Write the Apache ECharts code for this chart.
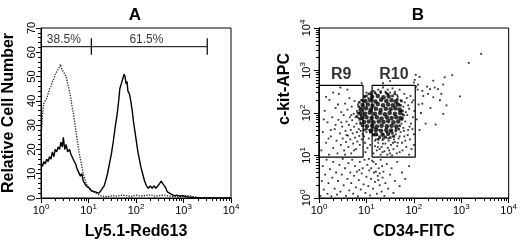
<!DOCTYPE html>
<html lang="en">
<head>
    <meta charset="UTF-8">
    <title>Ly5.1 histogram and CD34 / c-kit dot plot</title>
    <script src="https://cdn.jsdelivr.net/npm/echarts@6.0.0/dist/echarts.min.js"></script>
    <style>
        html, body, #chart {
            width: 520px;
            height: 245px;
            padding: 0;
            margin: 0;
            background: #fff;
        }
    </style>
</head>
<body>
<div id="chart"></div>
<script>
    // all x positions (and the y of panel B) are in decades: 0 = 10^0 ... 4 = 10^4
    var decades = [0, 1, 2, 3, 4];
    var countTicks = [0, 10, 20, 30, 40, 50, 60, 70];

    // panel A: Ly5.1-Red613 histogram, [decade, relative cell number]
    var solidCurve = [[0.0, 14], [0.03, 13], [0.06, 15], [0.09, 14], [0.12, 16], [0.15, 15], [0.18, 17], [0.21, 16],
        [0.24, 19], [0.27, 17], [0.3, 20], [0.33, 19], [0.36, 21], [0.39, 20], [0.42, 23], [0.45, 21], [0.47, 25],
        [0.5, 20], [0.53, 22], [0.56, 19], [0.6, 20], [0.63, 18], [0.66, 18], [0.7, 15], [0.73, 14], [0.76, 12],
        [0.8, 12], [0.83, 9], [0.86, 10], [0.89, 7], [0.92, 7], [0.95, 5], [0.98, 5], [1.02, 4], [1.06, 3],
        [1.1, 3.5], [1.14, 2.5], [1.18, 2.5], [1.22, 2], [1.26, 3], [1.3, 2.5], [1.33, 5], [1.36, 7], [1.4, 10],
        [1.44, 14], [1.48, 18], [1.52, 23], [1.56, 29], [1.6, 34], [1.63, 39], [1.66, 45], [1.69, 47], [1.72, 49],
        [1.75, 51], [1.77, 50], [1.79, 47], [1.81, 48], [1.83, 44], [1.86, 43], [1.89, 40], [1.92, 36], [1.95, 31],
        [1.98, 27], [2.01, 23], [2.04, 19], [2.07, 16], [2.1, 13], [2.14, 10], [2.18, 7], [2.22, 5], [2.26, 4],
        [2.3, 5], [2.34, 4], [2.38, 5], [2.42, 4], [2.46, 4.5], [2.5, 6], [2.53, 7], [2.56, 6], [2.6, 5], [2.63, 4],
        [2.66, 2.5], [2.7, 2], [2.75, 1.5], [2.8, 1], [2.86, 1.2], [2.92, 0.8], [2.98, 1], [3.04, 0.6], [3.1, 0.4],
        [3.2, 0.2], [3.3, 0.1], [3.5, 0], [4, 0]];
    var dottedCurve = [[0.0, 26], [0.02, 30], [0.04, 36], [0.06, 39], [0.09, 40], [0.12, 41], [0.15, 43], [0.18, 45],
        [0.21, 46], [0.24, 48], [0.27, 49], [0.3, 51], [0.33, 52], [0.36, 53], [0.39, 54], [0.41, 55], [0.44, 53],
        [0.47, 52], [0.5, 51], [0.53, 50], [0.56, 47], [0.59, 45], [0.62, 42], [0.65, 38], [0.68, 35], [0.71, 31],
        [0.74, 27], [0.77, 23], [0.8, 19], [0.83, 16], [0.86, 13], [0.89, 10], [0.92, 8], [0.95, 6], [0.98, 5],
        [1.02, 4], [1.06, 3], [1.1, 2.5], [1.15, 2], [1.2, 1.5], [1.25, 1], [1.3, 0.8], [1.4, 0.5], [1.5, 1],
        [1.6, 0.8], [1.7, 1.2], [1.8, 1], [1.9, 0.6], [2.0, 1.2], [2.1, 0.8], [2.2, 1], [2.3, 1.3], [2.4, 0.8],
        [2.5, 1], [2.6, 1.2], [2.7, 0.8], [2.8, 0.6], [2.9, 0.5], [3.0, 0.8], [3.1, 1], [3.2, 0.6], [3.3, 0.2],
        [3.4, 0], [4, 0]];

    // marker bar: from the left edge to the split, then to the end
    var markerLevel = 62.3;
    var markerSplit = 1.06;
    var markerEnd = 3.5;
    var markerCap = [59, 65.8];
    var percentLabels = [[0.48, 65.2, "38.5%"], [2.22, 65.2, "61.5%"]];

    // panel B: gates [xFrom, xTo, yFrom, yTo] in decades
    var gateR9 = [0, 0.93, 0.96, 2.65];
    var gateR10 = [1.12, 2.03, 0.96, 2.65];
    var gateLabels = [[0.47, 2.9, "R9"], [1.58, 2.9, "R10"]];

    // dense core of the cluster (drawn with bigger dots)
    var coreDots = [[1.12, 2.38], [1.24, 2.4], [1.36, 2.37], [1.47, 2.39],
        [0.98, 2.28], [1.08, 2.3], [1.19, 2.27], [1.31, 2.31], [1.42, 2.28], [1.53, 2.3], [1.62, 2.27],
        [0.92, 2.19], [1.03, 2.2], [1.13, 2.17], [1.24, 2.21], [1.35, 2.18], [1.46, 2.2], [1.56, 2.18], [1.66, 2.2],
        [0.88, 2.08], [0.99, 2.11], [1.09, 2.08], [1.2, 2.1], [1.3, 2.07], [1.41, 2.1], [1.51, 2.09], [1.61, 2.11], [1.7, 2.08],
        [0.87, 1.99], [0.97, 1.98], [1.07, 2.01], [1.18, 1.98], [1.29, 2.0], [1.39, 1.97], [1.49, 2.0], [1.6, 1.98], [1.71, 2.0],
        [0.9, 1.89], [1.0, 1.9], [1.11, 1.88], [1.22, 1.9], [1.32, 1.87], [1.43, 1.9], [1.53, 1.88], [1.63, 1.9], [1.72, 1.88],
        [0.95, 1.79], [1.05, 1.8], [1.15, 1.78], [1.26, 1.8], [1.36, 1.79], [1.46, 1.81], [1.57, 1.78], [1.67, 1.8],
        [1.01, 1.69], [1.12, 1.7], [1.22, 1.68], [1.32, 1.7], [1.43, 1.69], [1.53, 1.7], [1.63, 1.68],
        [1.1, 1.59], [1.2, 1.6], [1.31, 1.58], [1.42, 1.6], [1.52, 1.59],
        [1.2, 1.5], [1.34, 1.49], [1.46, 1.51]];

    // ragged edge of the core
    var fringeDots = [[0.82, 2.0], [0.84, 2.15], [0.86, 1.85], [0.9, 2.3], [0.93, 1.7], [0.96, 2.38], [1.0, 1.62],
        [1.05, 2.45], [1.08, 1.55], [1.18, 2.48], [1.15, 1.48], [1.3, 2.5], [1.28, 1.42], [1.42, 2.47], [1.4, 1.44],
        [1.55, 2.4], [1.55, 1.52], [1.65, 2.32], [1.62, 1.58], [1.72, 2.18], [1.7, 1.7], [1.76, 2.05], [1.75, 1.85],
        [1.78, 1.95], [0.8, 1.92], [0.85, 2.25], [1.58, 1.45], [1.68, 1.62], [1.5, 1.42], [1.1, 2.45], [1.45, 2.44],
        [0.95, 1.6], [1.25, 1.38], [1.36, 1.4], [0.88, 1.75], [1.74, 2.28], [1.6, 2.45], [1.0, 2.4]];

    // single events
    var dots = [
        // inside R9
        [0.05, 1.12], [0.08, 1.55], [0.12, 2.05], [0.15, 1.3], [0.18, 1.78], [0.21, 1.02], [0.22, 2.31], [0.25, 1.45],
        [0.28, 1.9], [0.3, 1.18], [0.33, 1.62], [0.35, 2.12], [0.37, 1.35], [0.39, 1.05], [0.41, 1.84], [0.42, 2.45],
        [0.44, 1.52], [0.46, 1.25], [0.47, 2.02], [0.49, 1.68], [0.5, 1.4], [0.52, 1.95], [0.53, 1.12], [0.55, 2.22],
        [0.56, 1.58], [0.57, 1.32], [0.58, 1.8], [0.6, 2.08], [0.61, 1.47], [0.62, 1.2], [0.63, 1.72], [0.64, 2.35],
        [0.65, 1.9], [0.66, 1.38], [0.67, 1.6], [0.68, 1.05], [0.69, 2.15], [0.7, 1.83], [0.71, 1.52], [0.72, 1.28],
        [0.73, 1.98], [0.74, 1.68], [0.75, 2.28], [0.76, 1.42], [0.77, 1.9], [0.78, 1.15], [0.79, 1.75], [0.8, 2.05],
        [0.8, 1.55], [0.81, 1.33], [0.82, 2.2], [0.83, 1.88], [0.84, 1.62], [0.85, 1.46], [0.85, 2.0], [0.86, 1.25],
        [0.87, 1.78], [0.88, 2.12], [0.88, 1.58], [0.89, 1.95], [0.9, 1.38], [0.9, 1.7], [0.91, 2.3], [0.91, 1.85],
        [0.92, 1.5], [0.92, 2.05], [0.6, 2.55], [0.45, 2.6], [0.3, 2.48], [0.1, 1.85], [0.15, 2.38], [0.55, 1.02],
        [0.35, 1.72], [0.25, 1.6], [0.47, 1.78], [0.68, 1.95], [0.74, 1.12], [0.58, 1.48], [0.4, 2.2], [0.2, 1.4],
        // between the gates
        [0.95, 1.45], [0.97, 1.3], [1.0, 1.55], [1.02, 1.18], [1.05, 1.4], [0.96, 2.4], [1.0, 2.48], [1.04, 2.35],
        [1.08, 1.25], [0.98, 1.08], [1.06, 1.6], [0.94, 2.28], [1.1, 2.5],
        // inside R10, around the core
        [1.15, 1.05], [1.18, 1.22], [1.2, 1.38], [1.22, 1.12], [1.25, 1.3], [1.27, 1.45], [1.3, 1.02], [1.32, 1.2],
        [1.34, 1.36], [1.36, 1.5], [1.38, 1.1], [1.4, 1.28], [1.42, 1.42], [1.45, 1.18], [1.47, 1.35], [1.5, 1.05],
        [1.52, 1.25], [1.55, 1.45], [1.57, 1.15], [1.6, 1.32], [1.62, 1.5], [1.65, 1.22], [1.68, 1.4], [1.7, 1.08],
        [1.72, 1.55], [1.75, 1.3], [1.78, 1.65], [1.8, 1.45], [1.82, 1.8], [1.84, 1.2], [1.86, 1.95], [1.88, 1.6],
        [1.9, 2.1], [1.92, 1.38], [1.94, 1.75], [1.96, 2.25], [1.98, 1.9], [2.0, 1.5], [2.01, 2.05], [1.85, 2.35],
        [1.78, 2.15], [1.76, 1.98], [1.8, 2.45], [1.72, 2.3], [1.7, 2.55], [1.65, 2.42], [1.6, 2.5], [1.55, 2.58],
        [1.5, 2.48], [1.45, 2.55], [1.4, 2.5], [1.35, 2.6], [1.3, 2.47], [1.25, 2.55], [1.2, 2.45], [1.15, 2.52],
        [1.13, 2.3], [1.14, 1.5], [1.16, 1.65], [1.74, 1.75], [1.77, 1.88], [1.79, 1.58], [1.83, 2.02], [1.88, 2.18],
        [1.91, 1.68], [1.93, 2.4], [1.97, 1.62], [1.99, 2.3], [1.62, 1.62], [1.58, 1.38], [1.48, 1.12], [1.35, 1.28],
        [1.28, 1.15], [1.22, 1.48], [1.42, 1.55], [1.52, 1.58], [1.66, 2.38], [1.7, 1.45], [1.87, 1.48], [1.95, 1.15],
        [2.0, 1.25], [1.9, 1.02], [1.82, 1.35], [1.76, 1.12], [1.64, 1.05], [1.54, 1.0], [1.44, 1.02], [1.34, 1.08],
        [1.24, 1.2], [1.18, 1.35], [1.26, 1.6], [1.46, 1.4], [1.56, 1.3], [1.66, 1.3], [1.73, 2.05], [1.81, 2.25],
        [1.69, 2.2],
        // right of R10 and above the gates
        [2.06, 1.85], [2.1, 2.2], [2.12, 1.6], [2.15, 2.0], [2.2, 2.4], [2.25, 1.75], [2.08, 2.55],
        [2.02, 2.78], [2.04, 2.9], [2.0, 2.72], [1.35, 2.7], [1.5, 2.75], [0.9, 2.7],
        // below the gates
        [0.03, 0.05], [0.06, 0.4], [0.08, 0.75], [0.1, 0.2], [0.13, 0.55], [0.16, 0.9], [0.18, 0.1], [0.2, 0.35],
        [0.23, 0.68], [0.26, 0.04], [0.28, 0.48], [0.3, 0.85], [0.33, 0.22], [0.36, 0.6], [0.38, 0.08], [0.4, 0.4],
        [0.43, 0.78], [0.45, 0.15], [0.48, 0.55], [0.5, 0.92], [0.52, 0.3], [0.55, 0.7], [0.57, 0.05], [0.6, 0.45],
        [0.62, 0.82], [0.64, 0.18], [0.66, 0.6], [0.68, 0.35], [0.7, 0.9], [0.72, 0.1], [0.74, 0.52], [0.76, 0.75],
        [0.78, 0.25], [0.8, 0.62], [0.82, 0.04], [0.84, 0.42], [0.86, 0.85], [0.88, 0.2], [0.9, 0.58], [0.92, 0.7],
        [0.94, 0.32], [0.96, 0.9], [0.98, 0.12], [1.0, 0.5], [1.02, 0.78], [1.04, 0.28], [1.06, 0.65], [1.08, 0.06],
        [1.1, 0.45], [1.12, 0.88], [1.14, 0.22], [1.16, 0.6], [1.18, 0.38], [1.2, 0.8], [1.22, 0.1], [1.24, 0.52],
        [1.26, 0.7], [1.28, 0.3], [1.3, 0.9], [1.32, 0.15], [1.34, 0.48], [1.36, 0.62], [1.38, 0.05], [1.4, 0.35],
        [1.43, 0.8], [1.46, 0.22], [1.5, 0.55], [1.53, 0.7], [1.57, 0.12], [1.6, 0.4], [1.65, 0.85], [1.7, 0.28],
        [1.75, 0.6], [1.82, 0.45], [1.9, 0.75], [1.2, 0.62], [1.1, 0.7], [1.25, 0.42], [1.15, 0.85], [0.85, 0.66],
        [1.05, 0.92], [1.28, 0.58], [1.33, 0.75],
        // sparse diagonal tail
        [3.42, 3.39], [3.16, 3.18], [2.81, 2.89], [2.65, 2.84], [2.62, 2.67], [2.41, 2.76], [2.44, 2.6], [2.34, 2.56],
        [2.18, 2.52], [2.3, 2.45], [2.41, 2.37], [2.58, 2.45], [2.97, 2.39], [2.69, 2.18], [2.18, 2.22], [2.62, 1.98],
        [2.46, 1.73], [2.09, 2.67], [2.51, 2.56], [2.28, 2.62], [2.55, 2.3], [2.12, 2.85], [2.05, 2.62], [2.35, 2.12]
    ];

    var font = "Liberation Sans, Arial, Helvetica, sans-serif";

    // minor ticks of a log axis: log10(2..9) in every decade
    var minorTicks = [];
    decades.slice(0, -1).forEach(function (d) {
        for (var k = 2; k <= 9; k++) {
            minorTicks.push(d + Math.log10(k));
        }
    });

    var powerLabel = {
        color: "#000",
        fontFamily: font,
        formatter: function (v) {
            return "{a|10}{b|" + v + "}";
        },
        rich: {
            a: {fontSize: 11, fontFamily: font, color: "#000"},
            b: {fontSize: 8, fontFamily: font, color: "#000", padding: [0, 0, 7, 0]}
        }
    };

    function boxLine(g) {
        return [[g[0], g[2]], [g[1], g[2]], [g[1], g[3]], [g[0], g[3]], [g[0], g[2]]];
    }

    function majorAxis(gridIndex, name, extra) {
        var axis = {
            gridIndex: gridIndex,
            type: "value",
            min: 0,
            max: 4,
            interval: 1,
            name: name,
            nameLocation: "middle",
            nameGap: 25,
            nameTextStyle: {fontFamily: font, fontSize: 16, fontWeight: "bold", color: "#000"},
            axisLine: {lineStyle: {color: "#000", width: 1}},
            axisTick: {length: 5, lineStyle: {color: "#000"}},
            axisLabel: Object.assign({margin: 5}, powerLabel),
            splitLine: {show: false}
        };
        return Object.assign(axis, extra || {});
    }

    function minorAxis(gridIndex, position) {
        return {
            gridIndex: gridIndex,
            type: "value",
            position: position,
            min: 0,
            max: 4,
            axisLine: {show: false},
            axisTick: {length: 3, customValues: minorTicks, lineStyle: {color: "#000"}},
            axisLabel: {show: false},
            splitLine: {show: false}
        };
    }

    var plainLine = function (data, xi, yi, style) {
        return {
            type: "line",
            xAxisIndex: xi,
            yAxisIndex: yi,
            data: data,
            symbol: "none",
            silent: true,
            animation: false,
            lineStyle: style
        };
    };

    var dotSeries = function (data, size, symbol) {
        return {
            type: "scatter",
            xAxisIndex: 2,
            yAxisIndex: 1,
            data: data,
            symbol: symbol,
            symbolSize: size,
            silent: true,
            itemStyle: {color: "#000"}
        };
    };

    var chart = echarts.init(document.getElementById("chart"), null, {renderer: "canvas"});
    chart.setOption({
        animation: false,
        backgroundColor: "#fff",
        title: [
            {text: "A", left: 130, top: 2, textAlign: "center",
                textStyle: {fontFamily: font, fontSize: 17, fontWeight: "bold", color: "#000"}},
            {text: "B", left: 413, top: 2, textAlign: "center",
                textStyle: {fontFamily: font, fontSize: 17, fontWeight: "bold", color: "#000"}}
        ],
        grid: [
            {left: 37, top: 28, width: 194, height: 180, show: true, borderColor: "#000", borderWidth: 1},
            {left: 319, top: 28, width: 190, height: 177, show: true, borderColor: "#000", borderWidth: 1}
        ],
        xAxis: [
            majorAxis(0, "Ly5.1-Red613", {position: "bottom", nameGap: 26}),
            minorAxis(0, "bottom"),
            majorAxis(1, "CD34-FITC", {position: "bottom", nameGap: 26}),
            minorAxis(1, "bottom")
        ],
        yAxis: [
            {
                gridIndex: 0,
                type: "value",
                min: 0,
                max: 70,
                interval: 10,
                name: "Relative Cell Number",
                nameLocation: "middle",
                nameGap: 24,
                nameTextStyle: {fontFamily: font, fontSize: 16, fontWeight: "bold", color: "#000"},
                axisLine: {show: true, lineStyle: {color: "#000"}},
                axisTick: {show: true, length: 5, lineStyle: {color: "#000"}},
                minorTick: {show: true, splitNumber: 5, length: 3, lineStyle: {color: "#000"}},
                axisLabel: {
                    rotate: 90, margin: 4, color: "#000", fontFamily: font, fontSize: 11,
                    customValues: countTicks
                },
                splitLine: {show: false}
            },
            majorAxis(1, "c-kit-APC", {
                position: "left",
                nameGap: 26,
                nameTextStyle: {fontFamily: font, fontSize: 16, fontWeight: "bold", color: "#000",
                    padding: [0, 0, 0, 48]},
                axisLabel: Object.assign({margin: 5, rotate: 90}, powerLabel)
            }),
            minorAxis(1, "left")
        ],
        series: [
            plainLine(dottedCurve, 0, 0, {color: "#222", width: 1.3, type: "dotted"}),
            plainLine(solidCurve, 0, 0, {color: "#000", width: 1.4}),
            plainLine([[0, markerLevel], [markerEnd, markerLevel]], 0, 0, {color: "#000", width: 1}),
            plainLine([[markerSplit, markerCap[0]], [markerSplit, markerCap[1]]], 0, 0, {color: "#000", width: 1.2}),
            plainLine([[markerEnd, markerCap[0]], [markerEnd, markerCap[1]]], 0, 0, {color: "#000", width: 1.2}),
            {
                type: "scatter",
                xAxisIndex: 0,
                yAxisIndex: 0,
                data: percentLabels,
                symbolSize: 0,
                silent: true,
                label: {
                    show: true, position: "inside", color: "#000", fontFamily: font, fontSize: 12,
                    formatter: function (p) { return p.data[2]; }
                }
            },
            dotSeries(coreDots, 4.6, "circle"),
            dotSeries(fringeDots, 2.6, "rect"),
            dotSeries(dots, 1.8, "rect"),
            plainLine(boxLine(gateR9), 2, 1, {color: "#000", width: 1.2}),
            plainLine(boxLine(gateR10), 2, 1, {color: "#000", width: 1.2}),
            {
                type: "scatter",
                xAxisIndex: 2,
                yAxisIndex: 1,
                data: gateLabels,
                symbolSize: 0,
                silent: true,
                label: {
                    show: true, position: "inside", color: "#000", fontFamily: font, fontSize: 16,
                    fontWeight: "bold",
                    formatter: function (p) { return p.data[2]; }
                }
            }
        ]
    });
</script>
</body>
</html>
